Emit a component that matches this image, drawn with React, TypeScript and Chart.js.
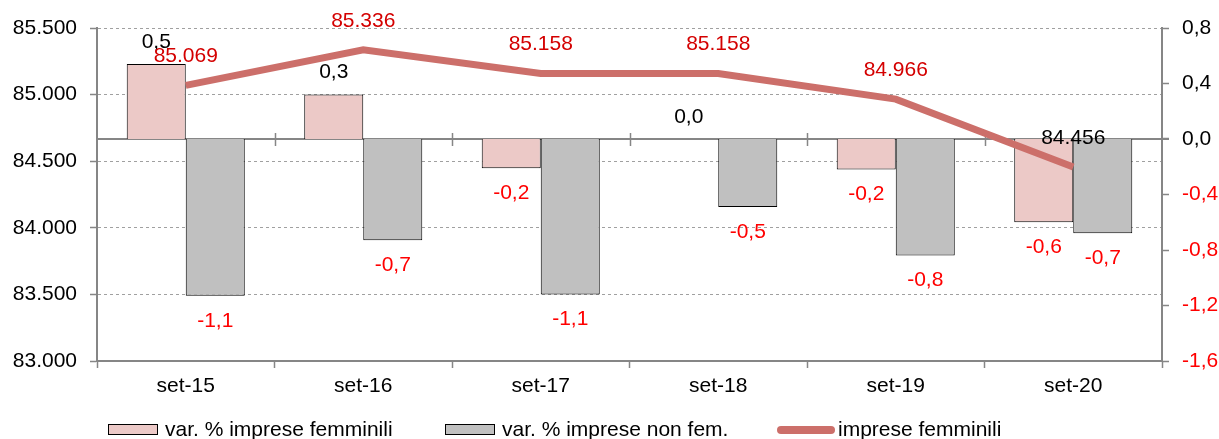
import React, { useEffect, useRef } from "react";
import { Chart, registerables } from "chart.js";

Chart.register(...registerables);

const categories = ["set-15", "set-16", "set-17", "set-18", "set-19", "set-20"];
const varFemminili = [0.54, 0.32, -0.21, 0.0, -0.22, -0.6];
const varNonFem = [-1.13, -0.73, -1.12, -0.49, -0.84, -0.68];
const impreseFemminili = [85069, 85336, 85158, 85158, 84966, 84456];
const seriesNames = ["var. % imprese femminili", "var. % imprese non fem.", "imprese femminili"];

const FONT = "'Liberation Sans', Arial, sans-serif";
const FS = 21;
const AXIS_GRAY = "#868686";
const GRID_GRAY = "#a0a0a0";
const FEM_FILL = "#ecc9c7";
const NONFEM_FILL = "#c0c0c0";
const LINE_COLOR = "#cc6f6a";
const LINE_LABEL = "#d40000";
const NEG_LABEL = "#ff0000";

const W = 1219;
const H = 439;

const fmtThousands = (v: number) => {
  const s = Math.round(v).toString();
  return s.replace(/\B(?=(\d{3})+(?!\d))/g, ".");
};
const fmtDec = (v: number) => {
  const r = Math.abs(v) < 1e-9 ? 0 : v;
  return r.toFixed(1).replace(".", ",");
};

const zeroLinePlugin = {
  id: "zeroLine",
  beforeDatasetsDraw(chart: any) {
    const { ctx, chartArea, scales } = chart;
    const y0 = Math.round(scales.y1.getPixelForValue(0));
    ctx.save();
    ctx.strokeStyle = AXIS_GRAY;
    ctx.lineWidth = 2;
    ctx.beginPath();
    ctx.moveTo(chartArea.left, y0);
    ctx.lineTo(chartArea.right + 7, y0);
    ctx.stroke();
    const x = scales.x;
    ctx.lineWidth = 1.5;
    for (let i = 1; i < categories.length; i++) {
      const xb = (x.getPixelForValue(i - 1) + x.getPixelForValue(i)) / 2;
      ctx.beginPath();
      ctx.moveTo(Math.round(xb) + 0.5, y0 - 6);
      ctx.lineTo(Math.round(xb) + 0.5, y0 + 7);
      ctx.stroke();
    }
    ctx.restore();
  },
};

const labelsPlugin = {
  id: "valueLabels",
  afterDatasetsDraw(chart: any) {
    const { ctx } = chart;
    ctx.save();
    ctx.font = `${FS}px ${FONT}`;
    ctx.textAlign = "center";
    ctx.textBaseline = "middle";
    [0, 1].forEach((di) => {
      const meta = chart.getDatasetMeta(di);
      const data = chart.data.datasets[di].data as number[];
      meta.data.forEach((el: any, i: number) => {
        const v = data[i];
        if (v >= -1e-9) {
          ctx.fillStyle = "#000000";
          ctx.fillText(fmtDec(v), el.x, el.y - 22);
        } else {
          ctx.fillStyle = NEG_LABEL;
          ctx.fillText(fmtDec(v), el.x, el.y + 25);
        }
      });
    });
    const lmeta = chart.getDatasetMeta(2);
    lmeta.data.forEach((el: any, i: number) => {
      ctx.fillStyle = i === 5 ? "#000000" : LINE_LABEL;
      ctx.fillText(fmtThousands(impreseFemminili[i]), el.x, el.y - 29);
    });
    ctx.restore();
  },
};

const legendPlugin = {
  id: "customLegend",
  afterDraw(chart: any) {
    const { ctx, chartArea } = chart;
    const yc = 430;
    const L = chartArea.left;
    ctx.save();
    ctx.font = `${FS}px ${FONT}`;
    ctx.textBaseline = "middle";
    ctx.textAlign = "left";
    ctx.strokeStyle = "#000";
    ctx.lineWidth = 1;
    // item 1
    let x = L + 11;
    ctx.fillStyle = FEM_FILL;
    ctx.fillRect(x, yc - 6, 50, 11);
    ctx.strokeRect(x + 0.5, yc - 5.5, 49, 10);
    ctx.fillStyle = "#000";
    ctx.fillText(seriesNames[0], x + 57, yc);
    // item 2
    x = L + 348;
    ctx.fillStyle = NONFEM_FILL;
    ctx.fillRect(x, yc - 6, 50, 11);
    ctx.strokeRect(x + 0.5, yc - 5.5, 49, 10);
    ctx.fillStyle = "#000";
    ctx.fillText(seriesNames[1], x + 57, yc);
    // item 3
    x = L + 680;
    ctx.strokeStyle = LINE_COLOR;
    ctx.lineWidth = 8;
    ctx.lineCap = "round";
    ctx.beginPath();
    ctx.moveTo(x + 4, yc);
    ctx.lineTo(x + 54, yc);
    ctx.stroke();
    ctx.fillStyle = "#000";
    ctx.fillText(seriesNames[2], x + 61, yc);
    ctx.restore();
  },
};

export default function App() {
  const ref = useRef<HTMLCanvasElement | null>(null);
  useEffect(() => {
    if (!ref.current) return;
    Chart.defaults.font.family = FONT;
    Chart.defaults.font.size = FS;
    Chart.defaults.color = "#000";
    const chart = new Chart(ref.current, {
      type: "bar",
      data: {
        labels: categories,
        datasets: [
          {
            type: "bar",
            label: seriesNames[0],
            data: varFemminili,
            yAxisID: "y1",
            backgroundColor: FEM_FILL,
            borderColor: "#000",
            borderWidth: 1,
            categoryPercentage: 0.665,
            barPercentage: 1.0,
            order: 2,
          },
          {
            type: "bar",
            label: seriesNames[1],
            data: varNonFem,
            yAxisID: "y1",
            backgroundColor: NONFEM_FILL,
            borderColor: "#000",
            borderWidth: 1,
            categoryPercentage: 0.665,
            barPercentage: 1.0,
            order: 2,
          },
          {
            type: "line",
            label: seriesNames[2],
            data: impreseFemminili,
            yAxisID: "y",
            borderColor: LINE_COLOR,
            borderWidth: 7,
            pointRadius: 0,
            tension: 0,
            order: 0,
          } as any,
        ],
      },
      options: {
        animation: false,
        responsive: false,
        maintainAspectRatio: false,
        layout: { padding: { top: 28, left: 0, right: 0, bottom: 0 } },
        plugins: {
          legend: { display: false },
          tooltip: { enabled: false },
        },
        scales: {
          x: {
            offset: true,
            grid: {
              offset: true,
              drawOnChartArea: false,
              tickLength: 7,
              tickColor: AXIS_GRAY,
              tickWidth: 1.5,
            },
            border: { color: AXIS_GRAY, width: 2 },
            ticks: { padding: 6, color: "#000", font: { size: FS } },
            afterFit: (s: any) => {
              s.height = 78;
              s.paddingLeft = 0;
              s.paddingRight = 0;
            },
          },
          y: {
            position: "left",
            min: 83000,
            max: 85500,
            ticks: {
              stepSize: 500,
              padding: 13,
              color: "#000",
              callback: (v: any) => fmtThousands(Number(v)),
            },
            grid: {
              color: (c: any) => (c.tick && c.tick.value === 83000 ? "rgba(0,0,0,0)" : GRID_GRAY),
              tickColor: AXIS_GRAY,
              tickLength: 7,
              tickWidth: 1.5,
              lineWidth: 1,
            },
            border: { color: AXIS_GRAY, width: 2, dash: [3, 3] },
            afterFit: (s: any) => {
              s.width = 97;
              s.paddingTop = 0;
              s.paddingBottom = 0;
            },
          },
          y1: {
            position: "right",
            min: -1.6,
            max: 0.8,
            ticks: {
              stepSize: 0.4,
              padding: 13,
              color: (c: any) => (c.tick && c.tick.value < -1e-9 ? NEG_LABEL : "#000"),
              callback: (v: any) => fmtDec(Number(v)),
            },
            grid: {
              drawOnChartArea: false,
              tickColor: AXIS_GRAY,
              tickLength: 7,
              tickWidth: 1.5,
            },
            border: { color: AXIS_GRAY, width: 2 },
            afterFit: (s: any) => {
              s.width = 57;
              s.paddingTop = 0;
              s.paddingBottom = 0;
            },
          },
        },
      },
      plugins: [zeroLinePlugin, labelsPlugin, legendPlugin],
    });
    return () => chart.destroy();
  }, []);
  return (
    <div style={{ position: "absolute", left: 0, top: 0, width: W, height: H, overflow: "hidden" }}>
      <canvas ref={ref} width={W} height={H} style={{ width: W, height: H, display: "block" }} />
    </div>
  );
}
